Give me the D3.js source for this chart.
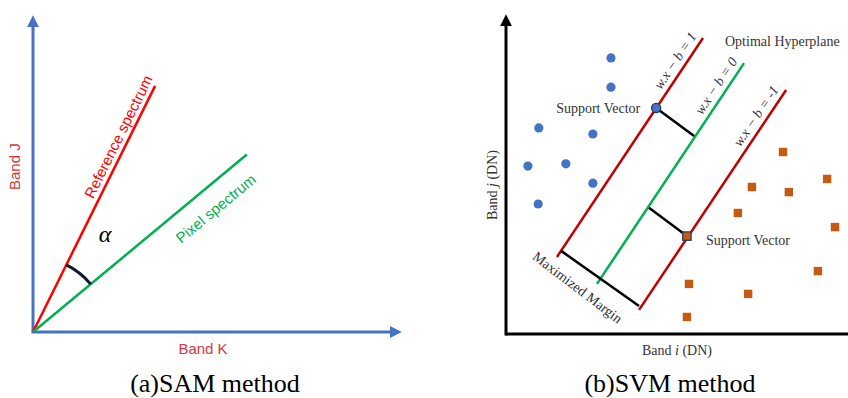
<!DOCTYPE html>
<html>
<head>
<meta charset="utf-8">
<script src="https://cdn.jsdelivr.net/npm/d3@7"></script>
<style>
  body { margin: 0; background: #fff; }
  svg { display: block; }
</style>
</head>
<body>
<div id="chart"></div>
<script>
// ---- left panel (SAM) data, in band units 0..100
const samVectors = [
  { name: "Reference spectrum", k: 33.0, j: 77.4, color: "#ff0000" },
  { name: "Pixel spectrum", k: 57.8, j: 55.8, color: "#00b050" }
];
const samAxisLabels = ["Band K", "Band J"];

// ---- right panel (SVM) data, in DN units 0..100
const classA = [
  [30.7, 86.0], [30.7, 76.9], [9.6, 64.2], [25.4, 62.3],
  [6.4, 52.3], [17.5, 53.0], [25.4, 47.0], [9.4, 40.5]
];
const classB = [
  [81.0, 56.7], [93.9, 48.3], [71.9, 45.8], [82.7, 44.2], [67.8, 37.7],
  [96.2, 33.3], [91.2, 19.6], [53.5, 15.6], [70.8, 12.5], [52.9, 5.3]
];
const supportA = [43.9, 70.4];
const supportB = [52.9, 30.5];
const hyperplanes = [
  { label: "w.x − b = 1", from: [14.9, 24.0], to: [57.6, 92.2], color: "#c00000" },
  { label: "w.x − b = 0", from: [26.6, 15.6], to: [69.6, 84.4], color: "#00b050" },
  { label: "w.x − b = -1", from: [38.9, 7.5], to: [81.9, 76.0], color: "#c00000" }
];
const marginSegs = [
  [supportA, [55.0, 61.7]],
  [[41.8, 39.3], supportB],
  [[16.1, 25.9], [38.9, 8.7]]
];

const W = 848, H = 398;
const svg = d3.select("#chart").append("svg")
  .attr("width", W).attr("height", H);

const defs = svg.append("defs");
function marker(id, color) {
  defs.append("marker")
    .attr("id", id)
    .attr("viewBox", "0 0 10 10")
    .attr("refX", 6).attr("refY", 5)
    .attr("markerWidth", 4).attr("markerHeight", 4)
    .attr("markerUnits", "strokeWidth")
    .attr("orient", "auto")
    .append("path").attr("d", "M0,0L10,5L0,10Z").attr("fill", color);
}
marker("arrBlue", "#4472c4");
marker("arrBlack", "#000");

const serif = "'Liberation Serif', 'Times New Roman', serif";
const sans = "'Liberation Sans', Arial, sans-serif";

// place a label along segment (x0,y0)-(x1,y1) at fraction t, offset "off" to the left of travel direction
function along(x0, y0, x1, y1, t, off, extra) {
  const ang = Math.atan2(y1 - y0, x1 - x0);
  const mx = x0 + (x1 - x0) * t, my = y0 + (y1 - y0) * t;
  const px = mx + Math.sin(ang) * off, py = my - Math.cos(ang) * off;
  return `translate(${px},${py}) rotate(${ang * 180 / Math.PI + (extra || 0)})`;
}

// ================= SAM =================
const sx = d3.scaleLinear().domain([0, 100]).range([33, 403]);
const sy = d3.scaleLinear().domain([0, 100]).range([332, 14]);
const gl = svg.append("g");

gl.append("line")
  .attr("x1", sx(0)).attr("y1", sy(0)).attr("x2", sx(0)).attr("y2", sy(100) + 6)
  .attr("stroke", "#4472c4").attr("stroke-width", 3).attr("marker-end", "url(#arrBlue)");
gl.append("line")
  .attr("x1", sx(0) - 1.5).attr("y1", sy(0)).attr("x2", sx(100) - 6).attr("y2", sy(0))
  .attr("stroke", "#4472c4").attr("stroke-width", 3).attr("marker-end", "url(#arrBlue)");

gl.selectAll("line.vec").data(samVectors).join("line")
  .attr("class", "vec")
  .attr("x1", sx(0)).attr("y1", sy(0))
  .attr("x2", d => sx(d.k)).attr("y2", d => sy(d.j))
  .attr("stroke", d => d.color).attr("stroke-width", 2.5);

// vector labels along the lines
gl.selectAll("text.vec").data(samVectors).join("text")
  .attr("class", "vec")
  .attr("transform", (d, i) => along(sx(0), sy(0), sx(d.k), sy(d.j),
    i === 0 ? 0.775 : 0.79, i === 0 ? 5 : -27))
  .attr("text-anchor", "middle")
  .attr("font-family", sans).attr("font-size", 15)
  .attr("fill", d => d.color)
  .text(d => d.name);

// angle arc
const angs = samVectors.map(d => Math.atan2(sx(d.k) - sx(0), sy(0) - sy(d.j)));
gl.append("path")
  .attr("transform", `translate(${sx(0)},${sy(0)})`)
  .attr("d", d3.arc().innerRadius(75).outerRadius(75).startAngle(angs[0]).endAngle(angs[1])())
  .attr("fill", "none").attr("stroke", "#111827").attr("stroke-width", 3);
gl.append("text")
  .attr("x", 105).attr("y", 242)
  .attr("text-anchor", "middle")
  .attr("font-family", serif).attr("font-style", "italic").attr("font-size", 24)
  .text("α");

gl.append("text")
  .attr("x", (sx(0) + sx(100)) / 2 - 15).attr("y", 354)
  .attr("text-anchor", "middle")
  .attr("font-family", sans).attr("font-size", 15).attr("fill", "#d9363e")
  .text(samAxisLabels[0]);
gl.append("text")
  .attr("transform", `translate(20,${sy(52)}) rotate(-90)`)
  .attr("text-anchor", "middle")
  .attr("font-family", sans).attr("font-size", 15).attr("fill", "#d9363e")
  .text(samAxisLabels[1]);

gl.append("text")
  .attr("x", 215).attr("y", 392)
  .attr("text-anchor", "middle")
  .attr("font-family", serif).attr("font-size", 26)
  .text("(a)SAM method");

// ================= SVM =================
const vx = d3.scaleLinear().domain([0, 100]).range([506, 848]);
const vy = d3.scaleLinear().domain([0, 100]).range([334, 13]);
const gr = svg.append("g");

gr.append("line")
  .attr("x1", vx(0)).attr("y1", vy(0) + 1.5).attr("x2", vx(0)).attr("y2", vy(100) + 6)
  .attr("stroke", "#000").attr("stroke-width", 3).attr("marker-end", "url(#arrBlack)");
gr.append("line")
  .attr("x1", vx(0)).attr("y1", vy(0)).attr("x2", vx(100) + 2).attr("y2", vy(0))
  .attr("stroke", "#000").attr("stroke-width", 3);

gr.selectAll("line.hp").data(hyperplanes).join("line")
  .attr("class", "hp")
  .attr("x1", d => vx(d.from[0])).attr("y1", d => vy(d.from[1]))
  .attr("x2", d => vx(d.to[0])).attr("y2", d => vy(d.to[1]))
  .attr("stroke", d => d.color).attr("stroke-width", 2.5);

gr.selectAll("line.mg").data(marginSegs).join("line")
  .attr("class", "mg")
  .attr("x1", d => vx(d[0][0])).attr("y1", d => vy(d[0][1]))
  .attr("x2", d => vx(d[1][0])).attr("y2", d => vy(d[1][1]))
  .attr("stroke", "#000").attr("stroke-width", 2.5);

gr.selectAll("text.hp").data(hyperplanes).join("text")
  .attr("class", "hp")
  .attr("transform", (d, i) => along(vx(d.from[0]), vy(d.from[1]), vx(d.to[0]), vy(d.to[1]),
    i === 2 ? 0.855 : 0.87, 6))
  .attr("text-anchor", "middle")
  .attr("font-family", serif).attr("font-style", "italic").attr("font-size", 14)
  .attr("fill", "#333")
  .text(d => d.label);

gr.selectAll("circle.a").data(classA.concat([supportA])).join("circle")
  .attr("class", "a")
  .attr("cx", d => vx(d[0])).attr("cy", d => vy(d[1]))
  .attr("r", 4.6)
  .attr("fill", "#4472c4")
  .attr("stroke", (d, i) => i === classA.length ? "#1f3864" : "none")
  .attr("stroke-width", 1.2);

gr.selectAll("rect.b").data(classB.concat([supportB])).join("rect")
  .attr("class", "b")
  .attr("x", d => vx(d[0]) - 4.2).attr("y", d => vy(d[1]) - 4.2)
  .attr("width", 8.4).attr("height", 8.4)
  .attr("fill", "#c55a11")
  .attr("stroke", (d, i) => i === classB.length ? "#1f3864" : "none")
  .attr("stroke-width", 1.2);

const txt = (x, y, s) => gr.append("text")
  .attr("x", x).attr("y", y)
  .attr("font-family", serif).attr("font-size", 14).attr("fill", "#333")
  .text(s);
txt(725, 46, "Optimal Hyperplane");
txt(vx(supportA[0]) - 100, vy(supportA[1]) + 5, "Support Vector");
txt(vx(supportB[0]) + 19, vy(supportB[1]) + 9, "Support Vector");

// margin label
{
  const a = marginSegs[2][0], b = marginSegs[2][1];
  gr.append("text")
    .attr("transform", along(vx(a[0]), vy(a[1]), vx(b[0]), vy(b[1]), 0.36, -25, 2))
    .attr("text-anchor", "middle")
    .attr("font-family", serif).attr("font-size", 14).attr("fill", "#333")
    .text("Maximized Margin");
}

const axLab = gr.append("text")
  .attr("x", 677).attr("y", 355)
  .attr("text-anchor", "middle")
  .attr("font-family", serif).attr("font-size", 14).attr("fill", "#333");
axLab.append("tspan").text("Band ");
axLab.append("tspan").attr("font-style", "italic").text("i");
axLab.append("tspan").text(" (DN)");

const ayLab = gr.append("text")
  .attr("transform", "translate(497,185) rotate(-90)")
  .attr("text-anchor", "middle")
  .attr("font-family", serif).attr("font-size", 14).attr("fill", "#333");
ayLab.append("tspan").text("Band ");
ayLab.append("tspan").attr("font-style", "italic").text("j");
ayLab.append("tspan").text(" (DN)");

gr.append("text")
  .attr("x", 670).attr("y", 392)
  .attr("text-anchor", "middle")
  .attr("font-family", serif).attr("font-size", 26)
  .text("(b)SVM method");
</script>
</body>
</html>
